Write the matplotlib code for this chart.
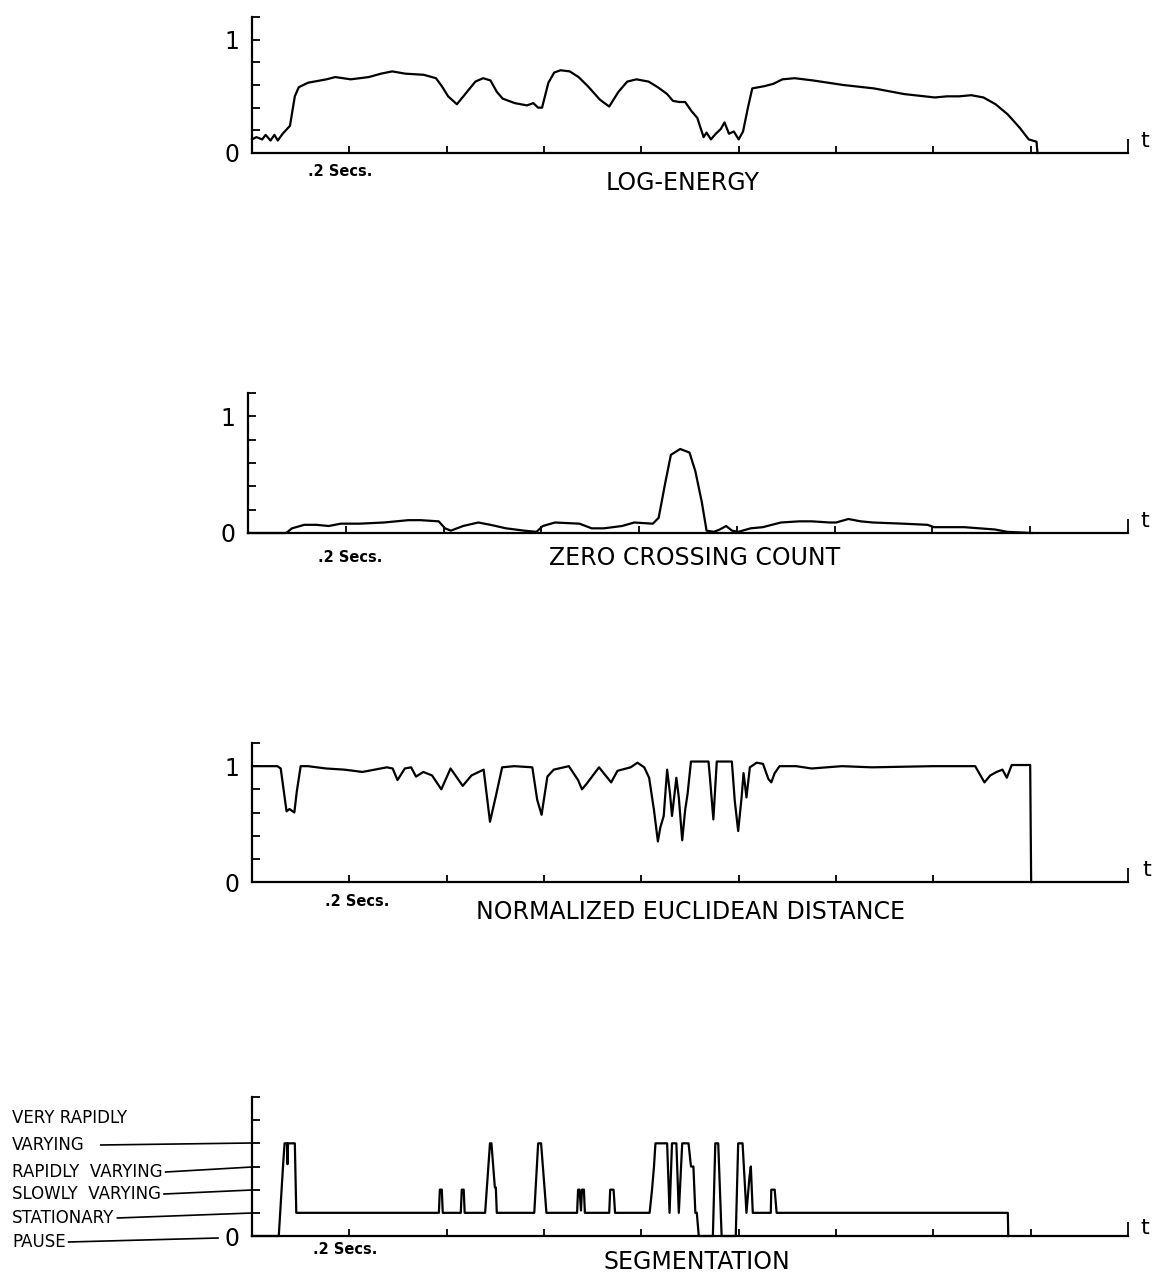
import matplotlib.pyplot as plt
from matplotlib.lines import Line2D

# ---- data (time in seconds) ----
energy_t = [0.000, 0.009, 0.021, 0.028, 0.038, 0.046, 0.053, 0.063, 0.078, 0.088,
            0.096, 0.115, 0.153, 0.171, 0.203, 0.240, 0.265, 0.288, 0.315, 0.353,
            0.378, 0.390, 0.403, 0.421, 0.440, 0.459, 0.475, 0.490, 0.503, 0.515,
            0.540, 0.565, 0.578, 0.588, 0.596, 0.609, 0.621, 0.634, 0.653, 0.671,
            0.690, 0.715, 0.734, 0.753, 0.771, 0.790, 0.815, 0.834, 0.853, 0.865,
            0.878, 0.890, 0.903, 0.915, 0.921, 0.928, 0.934, 0.943, 0.953, 0.963,
            0.971, 0.980, 0.990, 1.000, 1.009, 1.019, 1.028, 1.053, 1.071, 1.090,
            1.115, 1.153, 1.215, 1.278, 1.340, 1.403, 1.428, 1.453, 1.478, 1.503,
            1.528, 1.553, 1.578, 1.596, 1.612, 1.614]
energy_v = [0.12, 0.14, 0.12, 0.16, 0.11, 0.16, 0.11, 0.17, 0.24, 0.50,
            0.58, 0.62, 0.65, 0.67, 0.65, 0.67, 0.70, 0.72, 0.70, 0.69,
            0.66, 0.59, 0.50, 0.43, 0.53, 0.63, 0.66, 0.64, 0.54, 0.48,
            0.44, 0.42, 0.44, 0.40, 0.40, 0.62, 0.71, 0.73, 0.72, 0.67,
            0.59, 0.47, 0.41, 0.54, 0.63, 0.65, 0.63, 0.58, 0.52, 0.46,
            0.45, 0.45, 0.37, 0.31, 0.23, 0.14, 0.18, 0.12, 0.17, 0.21,
            0.27, 0.17, 0.19, 0.12, 0.19, 0.40, 0.57, 0.59, 0.61, 0.65,
            0.66, 0.64, 0.60, 0.57, 0.52, 0.49, 0.50, 0.50, 0.51, 0.49,
            0.43, 0.34, 0.22, 0.12, 0.10, 0.00]

zcc_t = [0.000, 0.078, 0.090, 0.115, 0.140, 0.165, 0.190, 0.228, 0.278, 0.328,
         0.353, 0.390, 0.403, 0.415, 0.440, 0.471, 0.496, 0.528, 0.565, 0.590,
         0.603, 0.628, 0.678, 0.703, 0.728, 0.765, 0.790, 0.828, 0.840, 0.853,
         0.865, 0.884, 0.903, 0.915, 0.928, 0.938, 0.953, 0.965, 0.978, 0.990,
         1.003, 1.028, 1.053, 1.090, 1.128, 1.153, 1.190, 1.203, 1.228, 1.253,
         1.278, 1.340, 1.390, 1.403, 1.465, 1.528, 1.553, 1.603]
zcc_v = [0.00, 0.00, 0.04, 0.07, 0.07, 0.06, 0.08, 0.08, 0.09, 0.11,
         0.11, 0.10, 0.04, 0.02, 0.06, 0.09, 0.07, 0.04, 0.02, 0.01,
         0.06, 0.09, 0.08, 0.04, 0.04, 0.06, 0.09, 0.08, 0.13, 0.42,
         0.67, 0.72, 0.69, 0.53, 0.27, 0.02, 0.01, 0.03, 0.06, 0.02,
         0.01, 0.04, 0.05, 0.09, 0.10, 0.10, 0.09, 0.09, 0.12, 0.10,
         0.09, 0.08, 0.07, 0.05, 0.05, 0.03, 0.01, 0.00]

dist_t = [0.000, 0.052, 0.059, 0.071, 0.077, 0.087, 0.092, 0.100, 0.115, 0.152,
          0.190, 0.227, 0.252, 0.277, 0.289, 0.299, 0.314, 0.327, 0.337, 0.352,
          0.370, 0.389, 0.408, 0.433, 0.451, 0.476, 0.489, 0.501, 0.514, 0.539,
          0.576, 0.586, 0.595, 0.607, 0.620, 0.651, 0.670, 0.678, 0.688, 0.713,
          0.738, 0.751, 0.778, 0.792, 0.806, 0.816, 0.826, 0.834, 0.839, 0.846,
          0.853, 0.859, 0.863, 0.872, 0.877, 0.884, 0.890, 0.895, 0.902, 0.938,
          0.941, 0.948, 0.955, 0.986, 0.992, 0.999, 1.006, 1.010, 1.013, 1.016,
          1.023, 1.037, 1.050, 1.061, 1.067, 1.074, 1.084, 1.118, 1.150, 1.212,
          1.274, 1.399, 1.486, 1.505, 1.517, 1.530, 1.542, 1.551, 1.561, 1.599,
          1.601]
dist_v = [1.00, 1.00, 0.98, 0.61, 0.63, 0.60, 0.78, 1.00, 1.00, 0.98,
          0.97, 0.95, 0.97, 0.99, 0.98, 0.88, 0.98, 0.99, 0.91, 0.95,
          0.92, 0.80, 0.98, 0.83, 0.92, 0.97, 0.52, 0.74, 0.99, 1.00,
          0.99, 0.71, 0.58, 0.91, 0.97, 1.00, 0.88, 0.80, 0.85, 0.99,
          0.86, 0.96, 0.99, 1.03, 0.99, 0.90, 0.62, 0.35, 0.47, 0.57,
          0.97, 0.76, 0.57, 0.90, 0.73, 0.36, 0.62, 0.76, 1.04, 1.04,
          0.90, 0.54, 1.04, 1.04, 0.70, 0.44, 0.73, 0.94, 0.84, 0.73,
          0.99, 1.03, 1.02, 0.89, 0.86, 0.94, 1.00, 1.00, 0.98, 1.00,
          0.99, 1.00, 1.00, 0.86, 0.92, 0.95, 0.97, 0.90, 1.01, 1.01,
          0.00]

# segmentation level: 0 pause, 1 stationary, 2 slowly, 3 rapidly, 4 very rapidly
seg_t = [0.000, 0.055, 0.064, 0.067, 0.072, 0.073, 0.074, 0.088, 0.091, 0.384,
         0.386, 0.390, 0.392, 0.429, 0.431, 0.435, 0.437, 0.479, 0.489, 0.492,
         0.499, 0.501, 0.503, 0.580, 0.588, 0.594, 0.605, 0.668, 0.670, 0.673,
         0.676, 0.678, 0.682, 0.684, 0.734, 0.736, 0.743, 0.746, 0.817, 0.822,
         0.826, 0.829, 0.853, 0.858, 0.863, 0.872, 0.877, 0.884, 0.897, 0.902,
         0.907, 0.911, 0.914, 0.918, 0.947, 0.952, 0.958, 0.965, 0.994, 0.999,
         1.008, 1.016, 1.022, 1.025, 1.029, 1.066, 1.067, 1.074, 1.078, 1.553,
         1.554]
seg_v = [0, 0, 3.1, 4, 4, 3.1, 4, 4, 1, 1,
         2, 2, 1, 1, 2, 2, 1, 1, 4, 4,
         2.1, 2.1, 1, 1, 4, 4, 1, 1, 2, 2,
         1.1, 2, 2, 1, 1, 2, 2, 1, 1, 2,
         3, 4, 4, 1, 4, 4, 1, 4, 4, 3,
         3, 1, 1, 0, 0, 4, 4, 0, 0, 4,
         4, 1, 2.5, 3, 1, 1, 2, 2, 1, 1,
         0]

seg_labels = ['VERY RAPIDLY', 'VARYING', 'RAPIDLY  VARYING', 'SLOWLY  VARYING',
              'STATIONARY', 'PAUSE']
titles = ['LOG-ENERGY', 'ZERO CROSSING COUNT', 'NORMALIZED EUCLIDEAN DISTANCE',
          'SEGMENTATION']
sec_ticks = [0.2, 0.4, 0.6, 0.8, 1.0, 1.2, 1.4, 1.6]

W, H = 1158, 1275
fig = plt.figure(figsize=(W / 100, H / 100), dpi=100)
plt.rcParams['font.family'] = 'DejaVu Sans'


def fx(px):
    return px / W


def fy(py):
    return 1 - py / H


def make_axes(left, zero_y, top_y, right=1128):
    ax = fig.add_axes([fx(left), fy(zero_y), (right - left) / W, (zero_y - top_y) / H])
    ax.set_xlim(0, 1.8)
    for s in ['top', 'right']:
        ax.spines[s].set_visible(False)
    for s in ['left', 'bottom']:
        ax.spines[s].set_linewidth(1.6)
    ax.set_xticks(sec_ticks)
    ax.set_xticklabels([])
    ax.set_xticks([1.8], minor=True)
    ax.tick_params(axis='x', which='major', direction='in', length=5, width=1.3)
    ax.tick_params(axis='x', which='minor', direction='in', length=10, width=1.3)
    ax.tick_params(axis='y', direction='in', length=6, width=1.3, labelsize=17, pad=9)
    return ax


panels = [(252, 153, 17), (248, 533, 393), (252, 882, 743), (252, 1236, 1097)]
series = [(energy_t, energy_v), (zcc_t, zcc_v), (dist_t, dist_v), (seg_t, seg_v)]
secs_pos = [(340, 172), (350, 557), (357, 901), (345, 1250)]
title_pos = [(683, 183), (695, 558), (690, 912), (697, 1262)]
t_pos = [(1145, 141), (1145, 521), (1147, 870), (1145, 1228)]

axes = []
for i, ((l, z, tp), (tt, vv)) in enumerate(zip(panels, series)):
    ax = make_axes(l, z, tp)
    if i < 3:
        ax.set_ylim(0, 1.2)
        ax.set_yticks([0, 0.2, 0.4, 0.6, 0.8, 1.0, 1.2])
        ax.set_yticklabels(['0', '', '', '', '', '1', ''])
    else:
        ax.set_ylim(0, 6)
        ax.set_yticks([0, 1, 2, 3, 4, 5, 6])
        ax.set_yticklabels(['0', '', '', '', '', '', ''])
    ax.plot(tt, vv, color='black', lw=1.6, clip_on=False)
    axes.append(ax)

    fig.text(fx(secs_pos[i][0]), fy(secs_pos[i][1]), '.2 Secs.', fontsize=10.5,
             fontweight='bold', ha='center', va='center')
    fig.text(fx(title_pos[i][0]), fy(title_pos[i][1]), titles[i], fontsize=17,
             ha='center', va='center')
    fig.text(fx(t_pos[i][0]), fy(t_pos[i][1]), 't', fontsize=16,
             ha='center', va='center')

# segmentation level labels with leader lines to the axis
label_y = [1118, 1145, 1172, 1194, 1218, 1242]
line_end = [None, 1143, 1167, 1190, 1213, 1238]
line_end_x = [None, 252, 252, 252, 252, 218]
texts = []
for lab, y in zip(seg_labels, label_y):
    texts.append(fig.text(fx(12), fy(y), lab, fontsize=12, ha='left', va='center'))

fig.canvas.draw()
for txt, y, ey, ex in zip(texts, label_y, line_end, line_end_x):
    if ey is None:
        continue
    bb = txt.get_window_extent()
    x0 = bb.x1 + 3 if txt.get_text() != 'VARYING' else bb.x1 + 16
    fig.add_artist(Line2D([x0 / W, fx(ex)], [fy(y), fy(ey)], color='black',
                          lw=1.2, transform=fig.transFigure))

fig.savefig('out.png', dpi=100)
